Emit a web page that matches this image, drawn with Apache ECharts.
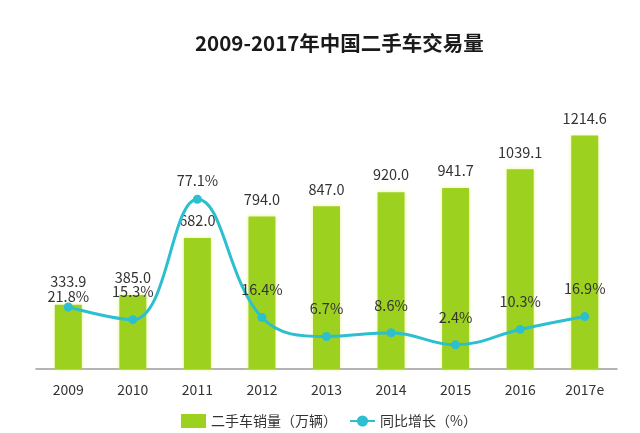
<!DOCTYPE html>
<html><head><meta charset="utf-8">
<script src="https://cdn.jsdelivr.net/npm/echarts@6/dist/echarts.min.js"></script>
<style>html,body{margin:0;padding:0;background:#fff}#c{width:640px;height:433px}</style>
</head><body><div id="c"></div>
<script>
const categories = ['2009','2010','2011','2012','2013','2014','2015','2016','2017e'];
const salesValues = [333.9, 385.0, 682.0, 794.0, 847.0, 920.0, 941.7, 1039.1, 1214.6];
const growthValues = [21.8, 15.3, 77.1, 16.4, 6.7, 8.6, 2.4, 10.3, 16.9];
const salesName = '二手车销量（万辆）';
const growthName = '同比增长（%）';
const titleText = '2009-2017年中国二手车交易量';

const FONT = '"Noto Sans CJK SC", "Noto Sans", sans-serif';
const chart = echarts.init(document.getElementById('c'));

const barData = salesValues.map((v, i) => i === 0 ? {value: v, label: {distance: 16}} : v);
const lineData = growthValues.map((v, i) => {
  if (i === 0) return {value: v, label: {distance: -1}};
  if (i === 2) return {value: v, label: {distance: 7}};
  return v;
});

chart.setOption({
  animation: false,
  title: {
    text: titleText, left: 190, top: 28,
    textStyle: {fontFamily: FONT, fontSize: 20.5, fontWeight: 'bold', color: '#1a1a1a'}
  },
  legend: {
    bottom: 0, left: 176, itemGap: 12,
    textStyle: {fontFamily: FONT, fontSize: 14, color: '#333'},
    data: [
      {name: salesName, icon: 'rect', itemWidth: 28, itemHeight: 10},
      {name: growthName, itemWidth: 32, itemHeight: 10}
    ]
  },
  grid: {left: 36, right: 23, top: 100, bottom: 64},
  xAxis: {
    type: 'category', data: categories,
    axisLine: {lineStyle: {color: '#9a9a9a', width: 1.5}},
    axisTick: {show: false},
    axisLabel: {fontFamily: FONT, fontSize: 14, color: '#333', margin: 14}
  },
  yAxis: [
    {type: 'value', min: 0, max: 1400, show: false, splitLine: {show: false}},
    {type: 'value', min: -10, max: 128, show: false, splitLine: {show: false}}
  ],
  series: [
    {
      name: salesName, type: 'bar', data: barData, barWidth: 27,
      itemStyle: {color: '#9dd11f', shadowColor: 'rgba(230,240,120,0.7)', shadowBlur: 4},
      label: {show: true, position: 'top', distance: 10, formatter: p => p.value.toFixed(1),
        fontFamily: FONT, fontSize: 14.5, color: '#333'}
    },
    {
      name: growthName, type: 'line', yAxisIndex: 1, data: lineData, smooth: 0.4,
      symbol: 'circle', symbolSize: 9,
      lineStyle: {color: '#2cbfd0', width: 3},
      itemStyle: {color: '#2cbfd0'},
      label: {show: true, position: 'top', distance: 16, formatter: p => p.value.toFixed(1) + '%',
        fontFamily: FONT, fontSize: 14.5, color: '#333'},
      z: 3
    }
  ]
});
</script></body></html>
